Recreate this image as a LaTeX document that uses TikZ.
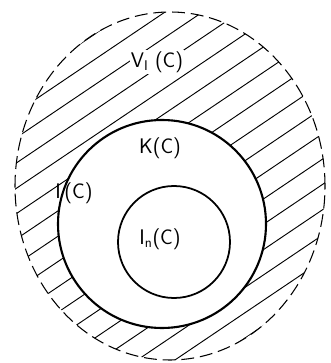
\documentclass[tikz,border=0pt]{standalone}
\usepackage{tikz}
\usetikzlibrary{calc}

\begin{document}
\begin{tikzpicture}[
    x=0.3mm, y=0.3mm,
    lbl/.style={font=\sffamily\fontsize{18}{20}\selectfont, inner sep=1pt},
    hatch/.style={line width=0.8pt},
    bound/.style={line width=0.9pt, dash pattern=on 11pt off 5pt},
    ring/.style={line width=1.8pt}
  ]
    \useasboundingbox (0,0) rectangle (330,363);
    \coordinate (co) at (170,177);
    \coordinate (cm) at (162,139);
    \coordinate (ci) at (174,121);
    % hatched region between the dashed boundary and K(C)
    \begin{scope}[even odd rule]
      \clip (co) ellipse [x radius=155, y radius=174] (cm) circle [radius=104];
      \begin{scope}[rotate around={34:(co)}]
        \foreach \s in {-210,-189,...,210}
          \draw[hatch] ($(co)+(-260,\s)$) -- ++(520,0);
      \end{scope}
    \end{scope}
    \draw[bound] (co) ellipse [x radius=155, y radius=174];
    \draw[ring] (cm) circle [radius=104];
    \draw[ring, line width=1.5pt] (ci) circle [radius=56];
    \node[lbl, fill=white] (vi) at (157,301) {V$_{\mathsf{I}}$ (C)};
    \node[lbl] (k) at (160,215) {K(C)};
    \node[lbl] (i) at (74,170) {I\,(C)};
    \node[lbl] (in) at (160,124) {I$_{\mathsf{n}}$(C)};
  \end{tikzpicture}
\end{document}
